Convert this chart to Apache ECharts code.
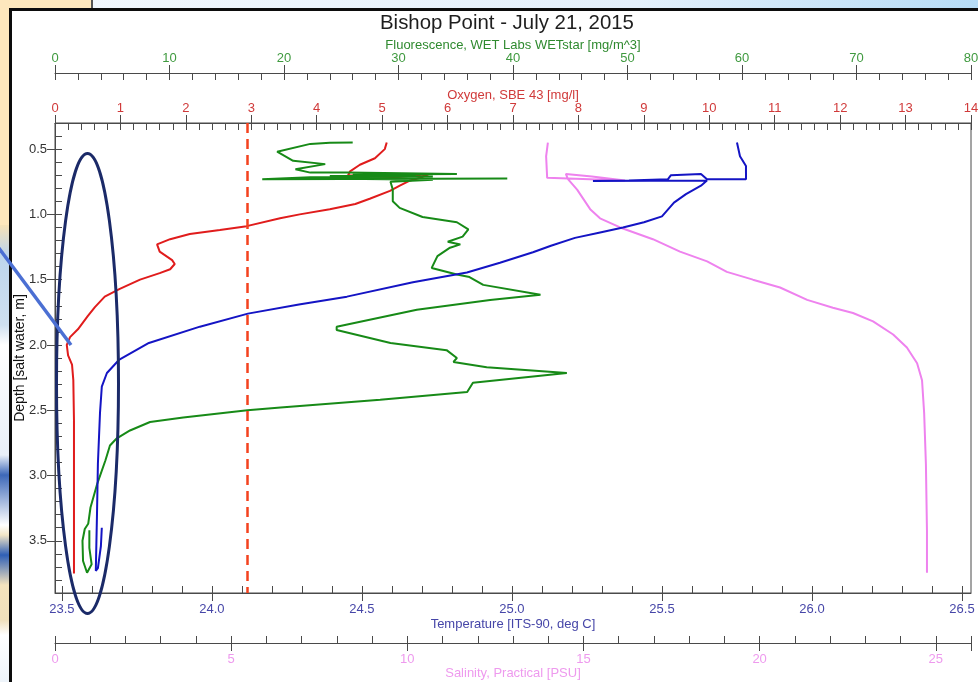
<!DOCTYPE html>
<html>
<head>
<meta charset="utf-8">
<title>Bishop Point - July 21, 2015</title>
<script src="https://cdn.jsdelivr.net/npm/echarts@6/dist/echarts.min.js"></script>
<style>
    html, body {
        margin: 0; padding: 0; width: 978px; height: 682px; overflow: hidden;
        background: linear-gradient(to right, #f3f8fd 0%, #e4f0fb 65%, #b7dcf6 100%);
    }
    /* 幻灯片背景的小块装饰 */
    #yellow { position: absolute; left: 0; top: 0; width: 91px; height: 240px; background: #fde7bd; border-right: 2px solid #555; }
    #strip {
        position: absolute; left: 0; top: 225px; width: 10px; height: 457px;
        background: linear-gradient(to bottom, #f6e2b8 0px, #bdd5ec 30px, #cfe0f0 100px, #ffffff 120px, #e9f0f8 230px,
            #3d68b8 250px, #ffffff 300px, #f3e6c6 310px, #2f5fb5 330px, #f4e3bd 360px, #f0e0bc 395px, #ffffff 410px, #eef4fa 457px);
    }
    #frame { position: absolute; left: 9px; top: 8px; width: 980px; height: 690px; background: #fff; border: 3px solid #0c0c0c; }
    #main { position: absolute; left: 0; top: 0; width: 978px; height: 682px; }
</style>
</head>
<body>
<div id="yellow"></div>
<div id="strip"></div>
<div id="frame"></div>
<div id="main"></div>
<script>
// 数据：每个点是 [数值, 深度(m)]，从图上读出来的
var oxygen = [
    [5.07, 0.45], [5.04, 0.50], [4.89, 0.57], [4.66, 0.62], [4.51, 0.67], [4.48, 0.70],
    [5.20, 0.715], [5.73, 0.69], [5.58, 0.72], [5.43, 0.74], [5.27, 0.78], [5.12, 0.82],
    [4.81, 0.88], [4.59, 0.92], [4.20, 0.96], [3.74, 1.00], [3.44, 1.03], [2.93, 1.09],
    [2.52, 1.12], [2.06, 1.15], [1.76, 1.19], [1.56, 1.23], [1.60, 1.285], [1.79, 1.35],
    [1.83, 1.38], [1.76, 1.42], [1.60, 1.45], [1.30, 1.50], [0.99, 1.57], [0.76, 1.63],
    [0.61, 1.71], [0.50, 1.78], [0.35, 1.88], [0.23, 1.94], [0.18, 2.00], [0.20, 2.08],
    [0.26, 2.15], [0.28, 2.27], [0.29, 2.58], [0.29, 2.91], [0.29, 3.35], [0.29, 3.75]
];
var fluorescence = [
    [26.0, 0.45], [24.0, 0.452], [22.3, 0.46], [19.4, 0.52], [20.8, 0.59], [23.6, 0.615], [21.0, 0.655],
    [22.3, 0.68], [25.5, 0.68], [35.1, 0.69], [26.0, 0.695], [31.5, 0.70], [24.0, 0.705],
    [33.0, 0.71], [22.3, 0.715], [18.1, 0.73], [39.5, 0.725], [27.0, 0.728], [33.0, 0.735],
    [29.3, 0.75], [29.5, 0.81], [29.5, 0.90], [30.1, 0.95],
    [32.1, 1.02], [35.1, 1.06], [36.1, 1.115], [35.6, 1.17], [34.3, 1.21], [35.4, 1.23],
    [34.5, 1.255], [33.4, 1.32], [32.9, 1.41], [35.1, 1.46], [36.2, 1.48], [37.4, 1.54],
    [42.4, 1.615], [38.0, 1.655], [31.6, 1.73], [24.6, 1.86], [24.6, 1.885], [29.3, 1.985],
    [34.2, 2.04], [35.1, 2.10], [34.8, 2.13], [37.7, 2.17], [44.7, 2.215], [36.5, 2.29],
    [36.0, 2.36], [28.4, 2.42], [19.7, 2.48], [16.8, 2.50], [11.2, 2.555], [8.3, 2.59],
    [6.55, 2.655], [5.4, 2.715], [4.8, 2.77], [4.4, 2.885], [3.7, 3.06], [3.1, 3.245],
    [2.9, 3.37], [2.6, 3.41], [2.4, 3.50], [2.45, 3.655], [2.8, 3.745], [3.2, 3.68],
    [3.0, 3.555], [3.0, 3.42]
];
var temperature = [
    [25.75, 0.45], [25.76, 0.555], [25.78, 0.63], [25.78, 0.73], [25.65, 0.73], [25.63, 0.69],
    [25.53, 0.70], [25.52, 0.73], [25.39, 0.74], [25.27, 0.745], [25.65, 0.74], [25.63, 0.78],
    [25.58, 0.845], [25.54, 0.91], [25.50, 1.015], [25.44, 1.06], [25.37, 1.10], [25.29, 1.14],
    [25.21, 1.18], [25.13, 1.24], [25.07, 1.29], [24.96, 1.37], [24.85, 1.445], [24.67, 1.52],
    [24.45, 1.63], [24.29, 1.69], [24.12, 1.76], [23.96, 1.86], [23.79, 1.985], [23.69, 2.115],
    [23.65, 2.215], [23.633, 2.32], [23.627, 2.52], [23.62, 2.91], [23.617, 3.29], [23.613, 3.73],
    [23.62, 3.71], [23.63, 3.54], [23.633, 3.40]
];
var salinity = [
    [13.99, 0.45], [13.94, 0.555], [13.97, 0.72], [16.18, 0.74], [15.24, 0.71], [14.50, 0.69],
    [14.56, 0.73], [14.82, 0.81], [15.19, 0.96], [15.47, 1.03], [16.04, 1.10], [16.97, 1.19],
    [17.74, 1.285], [18.51, 1.36], [19.07, 1.44], [19.81, 1.50], [20.58, 1.56], [21.35, 1.655],
    [22.08, 1.715], [22.65, 1.755], [23.22, 1.82], [23.79, 1.92], [24.18, 2.02], [24.47, 2.14],
    [24.61, 2.27], [24.67, 2.52], [24.72, 2.91], [24.75, 3.42], [24.75, 3.745]
];
// 虚线（氧气 mg/l）
var oxygenLimit = 2.94;

// 刻度标签
var depthTicks = [0.5, 1.0, 1.5, 2.0, 2.5, 3.0, 3.5];
var tempTicks = [23.5, 24.0, 24.5, 25.0, 25.5, 26.0, 26.5];
var salTicks = [0, 5, 10, 15, 20, 25, 26];
var salLabels = [0, 5, 10, 15, 20, 25];
var fluorTicks = [0, 10, 20, 30, 40, 50, 60, 70, 80];
var oxyTicks = [0, 1, 2, 3, 4, 5, 6, 7, 8, 9, 10, 11, 12, 13, 14];

var font = '"Liberation Sans", Arial, sans-serif';
var axisColor = '#4a4a4a';

// 小刻度
function 小刻度(start, end, step) {
    var list = [];
    for (var v = start; v <= end + 1e-9; v += step) {
        list.push(Math.round(v * 1000) / 1000);
    }
    return list;
}

// 一根轴 = 带标签的大刻度 + 朝里的小刻度
function 轴(o) {
    var main = {
        type: 'value', position: o.position, offset: o.offset, min: o.min, max: o.max,
        inverse: !!o.inverse,
        name: o.name, nameLocation: 'middle', nameGap: o.nameGap, nameMoveOverlap: false,
        nameTextStyle: { color: o.nameColor || o.color, fontSize: o.nameSize || 13, fontFamily: font },
        axisLine: { show: true, onZero: false, lineStyle: { color: axisColor } },
        axisTick: { show: true, inside: false, length: 8, customValues: o.ticks, lineStyle: { color: axisColor } },
        axisLabel: {
            show: true, customValues: o.labels || o.ticks, margin: o.margin, color: o.color,
            fontSize: 13, fontFamily: font, formatter: o.fmt, hideOverlap: false
        },
        splitLine: { show: false }
    };
    var minor = {
        type: 'value', position: o.position, offset: o.offset, min: o.min, max: o.max,
        inverse: !!o.inverse,
        axisLine: { show: false, onZero: false },
        axisTick: { show: true, inside: true, length: 7, customValues: o.minor, lineStyle: { color: axisColor } },
        axisLabel: { show: false },
        splitLine: { show: false }
    };
    return [main, minor];
}

var fix1 = function (v) { return Number(v).toFixed(1); };
var int0 = function (v) { return String(Math.round(v)); };

var xAxes = [].concat(
    // 0,1 温度
    轴({ position: 'bottom', offset: 0, min: 23.477, max: 26.53, ticks: tempTicks, minor: 小刻度(23.5, 26.5, 0.1),
        color: '#4646a8', name: 'Temperature [ITS-90, deg C]', nameGap: 25, margin: 10, fmt: fix1 }),
    // 2,3 盐度
    轴({ position: 'bottom', offset: 50, min: 0, max: 26, ticks: salTicks, labels: salLabels, minor: 小刻度(0, 26, 1),
        color: '#ee9aee', name: 'Salinity, Practical [PSU]', nameGap: 24, margin: 10, fmt: int0 }),
    // 4,5 荧光
    轴({ position: 'top', offset: 50, min: 0, max: 80, ticks: fluorTicks, minor: 小刻度(0, 80, 2),
        color: '#3f9a3f', nameColor: '#2f8a2f', name: 'Fluorescence, WET Labs WETstar [mg/m^3]', nameGap: 21, margin: 8, fmt: int0 }),
    // 6,7 氧气
    轴({ position: 'top', offset: 0, min: 0, max: 14, ticks: oxyTicks, minor: 小刻度(0, 14, 0.2),
        color: '#d03a3a', name: 'Oxygen, SBE 43 [mg/l]', nameGap: 21, margin: 8, fmt: int0 })
);

var yAxes = 轴({ position: 'left', offset: 0, min: 0.3, max: 3.9, inverse: true, ticks: depthTicks,
    minor: 小刻度(0.3, 3.9, 0.1), color: '#333', nameColor: '#111', nameSize: 14, name: 'Depth [salt water, m]',
    nameGap: 28, margin: 8, fmt: fix1 });

var chart = echarts.init(document.getElementById('main'));

var option = {
    animation: false,
    title: {
        text: 'Bishop Point - July 21, 2015',
        left: 375, top: 8,
        textStyle: { fontSize: 20.4, fontWeight: 'normal', color: '#1e1e1e', fontFamily: font }
    },
    grid: {
        left: 55, right: 7, top: 123, bottom: 89, containLabel: false, outerBoundsMode: 'none',
        show: true, borderColor: axisColor, borderWidth: 1
    },
    xAxis: xAxes,
    yAxis: yAxes,
    series: [
        {
            name: 'Salinity', type: 'line', xAxisIndex: 2, yAxisIndex: 0, data: salinity,
            symbol: 'none', lineStyle: { color: '#ee82ee', width: 2 }, itemStyle: { color: '#ee82ee' }
        },
        {
            name: 'Oxygen', type: 'line', xAxisIndex: 6, yAxisIndex: 0, data: oxygen,
            symbol: 'none', lineStyle: { color: '#e01c1c', width: 2 }, itemStyle: { color: '#e01c1c' },
            markLine: {
                silent: true, symbol: 'none', label: { show: false },
                lineStyle: { color: '#f4421e', type: [10, 6], width: 2.5 },
                data: [{ xAxis: oxygenLimit }]
            }
        },
        {
            name: 'Fluorescence', type: 'line', xAxisIndex: 4, yAxisIndex: 0, data: fluorescence,
            symbol: 'none', lineStyle: { color: '#178a17', width: 2 }, itemStyle: { color: '#178a17' }
        },
        {
            name: 'Temperature', type: 'line', xAxisIndex: 0, yAxisIndex: 0, data: temperature,
            symbol: 'none', lineStyle: { color: '#1414c4', width: 2 }, itemStyle: { color: '#1414c4' }
        }
    ],
    // 幻灯片上手画的标注
    graphic: [
        {
            type: 'ellipse', z: 100, silent: true,
            shape: { cx: 87.5, cy: 383.5, rx: 31, ry: 230 },
            style: { fill: 'transparent', stroke: '#1b2a68', lineWidth: 3 }
        },
        {
            type: 'line', z: 100, silent: true,
            shape: { x1: -2, y1: 247, x2: 71, y2: 345 },
            style: { stroke: '#4b6fd3', lineWidth: 3.5 }
        }
    ]
};

chart.setOption(option);
</script>
</body>
</html>
